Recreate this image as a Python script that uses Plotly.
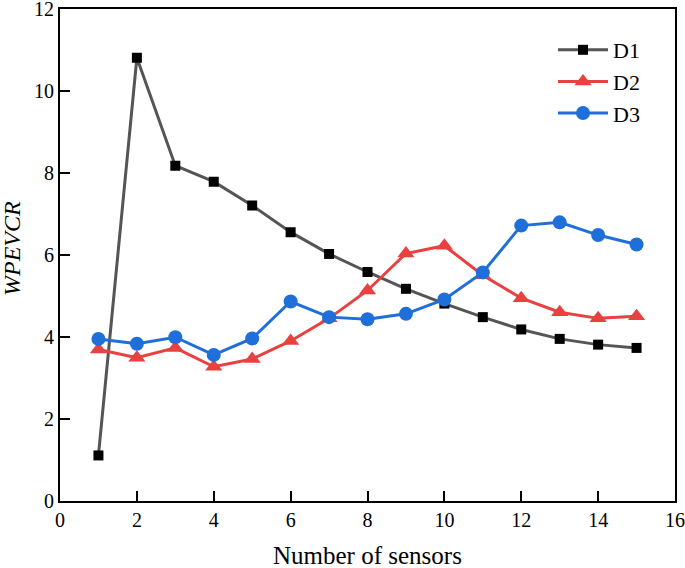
import plotly.graph_objects as go

sensors = list(range(1, 16))
d1 = [1.11, 10.8, 8.17, 7.78, 7.2, 6.55, 6.02, 5.58, 5.17, 4.81, 4.48, 4.18, 3.95, 3.81, 3.73]
d2 = [3.69, 3.49, 3.73, 3.27, 3.46, 3.9, 4.45, 5.13, 6.03, 6.22, 5.5, 4.94, 4.6, 4.45, 4.5]
d3 = [3.95, 3.83, 3.99, 3.56, 3.96, 4.86, 4.48, 4.43, 4.56, 4.91, 5.57, 6.71, 6.79, 6.48, 6.25]

x_ticks = [0, 2, 4, 6, 8, 10, 12, 14, 16]
y_ticks = [0, 2, 4, 6, 8, 10, 12]

W, H = 685, 568
font_family = "Liberation Serif, Times New Roman, serif"

fig = go.Figure()
fig.add_trace(go.Scatter(x=sensors, y=d1, name="D1", mode="lines+markers",
                         line=dict(color="#555555", width=3),
                         marker=dict(symbol="square", size=10, color="#000000")))
fig.add_trace(go.Scatter(x=sensors, y=d2, name="D2", mode="lines+markers",
                         line=dict(color="#E8413F", width=3),
                         marker=dict(symbol="triangle-up", size=15, color="#E8413F")))
fig.add_trace(go.Scatter(x=sensors, y=d3, name="D3", mode="lines+markers",
                         line=dict(color="#1E6FD9", width=3),
                         marker=dict(symbol="circle", size=14, color="#1E6FD9")))

axis_common = dict(showgrid=False, zeroline=False, showline=True, linecolor="black",
                   linewidth=2, mirror=True, ticks="inside", ticklen=10, tickwidth=2,
                   tickcolor="black", automargin=False, ticklabeloverflow="allow",
                   tickfont=dict(family=font_family, size=20, color="black"))

fig.update_xaxes(range=[0, 16], tickvals=x_ticks, domain=[60 / W, 675 / W], **axis_common)
fig.update_yaxes(range=[0, 12], tickvals=y_ticks, domain=[1 - 501 / H, 1 - 8.5 / H], **axis_common)

fig.add_annotation(text="Number of sensors", xref="paper", yref="paper",
                   x=367.5 / W, y=1 - 555 / H, showarrow=False, xanchor="center", yanchor="middle",
                   font=dict(family=font_family, size=25, color="black"))
fig.add_annotation(text="<i>WPEVCR</i>", xref="paper", yref="paper",
                   x=12 / W, y=1 - 249 / H, showarrow=False, textangle=-90,
                   xanchor="center", yanchor="middle",
                   font=dict(family=font_family, size=24, color="black"))

fig.update_layout(
    width=W, height=H,
    margin=dict(l=0, r=0, t=0, b=0),
    plot_bgcolor="white", paper_bgcolor="white",
    font=dict(family=font_family, size=20, color="black"),
    legend=dict(x=553 / W, y=1 - 29 / H, xanchor="left", yanchor="top", bgcolor="rgba(0,0,0,0)",
                font=dict(family=font_family, size=22, color="black"), tracegroupgap=0,
                itemwidth=50),
    showlegend=True,
)

fig.write_html("out.html", config={"displayModeBar": False},
               post_script="document.body.style.margin='0';document.body.style.padding='0';")
